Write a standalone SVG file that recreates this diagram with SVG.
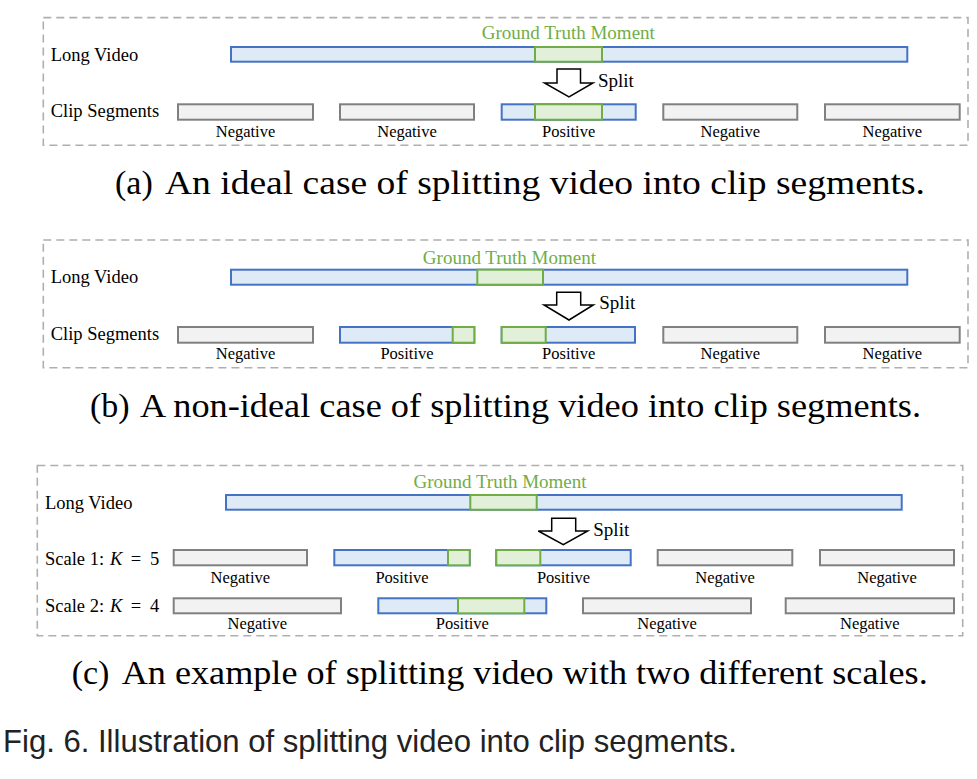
<svg xmlns="http://www.w3.org/2000/svg" width="977" height="779" viewBox="0 0 977 779">
<style>
.frame{fill:none;stroke:#AFAFAF;stroke-width:1.6;stroke-dasharray:8 5}
.blue{fill:#DEEBF7;stroke:#4472C4;stroke-width:2}
.green{fill:#E2F0D9;stroke:#70AD47;stroke-width:2}
.gray{fill:#F2F2F2;stroke:#808080;stroke-width:2}
.arrow{fill:#FFFFFF;stroke:#000000;stroke-width:1.5;stroke-linejoin:miter}
.row{font-family:"Liberation Serif","Times New Roman",serif;font-size:18.5px;fill:#000}
.lbl{font-family:"Liberation Serif","Times New Roman",serif;font-size:16.5px;fill:#000;text-anchor:middle}
.gt{font-family:"Liberation Serif","Times New Roman",serif;font-size:19px;fill:#70AD47;text-anchor:middle}
.split{font-family:"Liberation Serif","Times New Roman",serif;font-size:19px;fill:#000}
.cap{font-family:"Liberation Serif","Times New Roman",serif;font-size:34px;fill:#000}
.fig{font-family:"Liberation Sans",Arial,sans-serif;font-size:32px;fill:#222}
</style>

<!-- (a) -->
<g id="panel-a">
<rect class="frame" x="43.3" y="17.6" width="924.7" height="127.7"/>
<text class="row" x="50.7" y="60.7">Long Video</text>
<text class="row" x="50.7" y="116.7">Clip Segments</text>
<g id="a-long-video">
<rect class="blue" x="231" y="47" width="676.3" height="14.7"/>
<rect class="green" x="535" y="47" width="67" height="14.7"/>
</g>
<text class="gt" x="568.3" y="39.3">Ground Truth Moment</text>
<g id="a-clip1"><rect class="gray" x="178" y="104.3" width="135" height="15.4"/><text class="lbl" x="245.5" y="136.7">Negative</text></g>
<g id="a-clip2"><rect class="gray" x="340" y="104.3" width="134" height="15.4"/><text class="lbl" x="407" y="136.7">Negative</text></g>
<g id="a-clip3"><rect class="blue" x="501.7" y="104.3" width="134" height="15.4"/><rect class="green" x="535" y="104.3" width="67" height="15.4"/><text class="lbl" x="568.7" y="136.7">Positive</text></g>
<g id="a-clip4"><rect class="gray" x="663.3" y="104.3" width="134" height="15.4"/><text class="lbl" x="730.3" y="136.7">Negative</text></g>
<g id="a-clip5"><rect class="gray" x="825" y="104.3" width="134.7" height="15.4"/><text class="lbl" x="892.3" y="136.7">Negative</text></g>
</g>

<!-- (b) -->
<g id="panel-b">
<rect class="frame" x="43.3" y="240" width="924.7" height="127.7"/>
<text class="row" x="50.7" y="283.4">Long Video</text>
<text class="row" x="50.7" y="339.7">Clip Segments</text>
<g id="b-long-video">
<rect class="blue" x="231" y="269.7" width="676.3" height="15"/>
<rect class="green" x="477.3" y="269.7" width="65.7" height="15"/>
</g>
<text class="gt" x="509.4" y="264">Ground Truth Moment</text>
<g id="b-clip1"><rect class="gray" x="178" y="327" width="135" height="15.7"/><text class="lbl" x="245.5" y="359">Negative</text></g>
<g id="b-clip2"><rect class="blue" x="340" y="327" width="134.3" height="15.7"/><rect class="green" x="452.7" y="327" width="21.6" height="15.7"/><text class="lbl" x="407" y="359">Positive</text></g>
<g id="b-clip3"><rect class="blue" x="501.7" y="327" width="133.3" height="15.7"/><rect class="green" x="501.7" y="327" width="44" height="15.7"/><text class="lbl" x="568.7" y="359">Positive</text></g>
<g id="b-clip4"><rect class="gray" x="663.3" y="327" width="134" height="15.7"/><text class="lbl" x="730.3" y="359">Negative</text></g>
<g id="b-clip5"><rect class="gray" x="825" y="327" width="134.7" height="15.7"/><text class="lbl" x="892.3" y="359">Negative</text></g>
</g>

<!-- (c) -->
<g id="panel-c">
<rect class="frame" x="37.3" y="465.5" width="925.4" height="170.2"/>
<text class="row" x="45" y="508.7">Long Video</text>
<text class="row" x="45" y="565">Scale 1:</text>
<text class="row" x="110" y="565" font-style="italic">K</text>
<text class="row" x="130.7" y="565">=</text>
<text class="row" x="150" y="565">5</text>
<text class="row" x="45" y="611.7">Scale 2:</text>
<text class="row" x="110" y="611.7" font-style="italic">K</text>
<text class="row" x="130.7" y="611.7">=</text>
<text class="row" x="150" y="611.7">4</text>
<g id="c-long-video">
<rect class="blue" x="226" y="495" width="675.7" height="14.7"/>
<rect class="green" x="470.3" y="495" width="66.4" height="14.7"/>
</g>
<text class="gt" x="500" y="488.3">Ground Truth Moment</text>
<g id="c-s1-clip1"><rect class="gray" x="173.7" y="550" width="133.3" height="15.3"/><text class="lbl" x="240.3" y="582.7">Negative</text></g>
<g id="c-s1-clip2"><rect class="blue" x="334.3" y="550" width="135.4" height="15.3"/><rect class="green" x="448" y="550" width="21.7" height="15.3"/><text class="lbl" x="402" y="582.7">Positive</text></g>
<g id="c-s1-clip3"><rect class="blue" x="496.3" y="550" width="134.4" height="15.3"/><rect class="green" x="496.3" y="550" width="44" height="15.3"/><text class="lbl" x="563.5" y="582.7">Positive</text></g>
<g id="c-s1-clip4"><rect class="gray" x="657.7" y="550" width="134.6" height="15.3"/><text class="lbl" x="725" y="582.7">Negative</text></g>
<g id="c-s1-clip5"><rect class="gray" x="820" y="550" width="134" height="15.3"/><text class="lbl" x="887" y="582.7">Negative</text></g>
<g id="c-s2-clip1"><rect class="gray" x="173.7" y="598.3" width="167.3" height="15"/><text class="lbl" x="257.3" y="629.3">Negative</text></g>
<g id="c-s2-clip2"><rect class="blue" x="378.3" y="598.3" width="168" height="15"/><rect class="green" x="458" y="598.3" width="66.3" height="15"/><text class="lbl" x="462.3" y="629.3">Positive</text></g>
<g id="c-s2-clip3"><rect class="gray" x="583" y="598.3" width="168" height="15"/><text class="lbl" x="667" y="629.3">Negative</text></g>
<g id="c-s2-clip4"><rect class="gray" x="785.7" y="598.3" width="168.3" height="15"/><text class="lbl" x="869.8" y="629.3">Negative</text></g>
</g>

<!-- connectors: split arrows -->
<g id="connectors">
<polygon class="arrow" points="557,69 580.5,69 580.5,83 593,83 569,97 544.5,83 557,83"/>
<polygon class="arrow" points="556.7,292.3 580.7,292.3 580.7,305 593.3,305 569,320 544,305 556.7,305"/>
<polygon class="arrow" points="551.7,518.3 575.7,518.3 575.7,531 587.7,531 563.3,544.7 538.3,531 551.7,531"/>
<text class="split" x="598" y="87">Split</text>
<text class="split" x="599.3" y="309">Split</text>
<text class="split" x="593.3" y="535.7">Split</text>
</g>

<!-- captions -->
<text class="cap" x="115" y="194">(a)</text>
<text class="cap" x="165" y="194" textLength="760" lengthAdjust="spacingAndGlyphs">An ideal case of splitting video into clip segments.</text>
<text class="cap" x="90" y="417">(b)</text>
<text class="cap" x="140" y="417" textLength="781" lengthAdjust="spacingAndGlyphs">A non-ideal case of splitting video into clip segments.</text>
<text class="cap" x="71.7" y="684">(c)</text>
<text class="cap" x="121.7" y="684" textLength="806" lengthAdjust="spacingAndGlyphs">An example of splitting video with two different scales.</text>
<text class="fig" x="3" y="752" textLength="734" lengthAdjust="spacingAndGlyphs">Fig. 6. Illustration of splitting video into clip segments.</text>
</svg>
